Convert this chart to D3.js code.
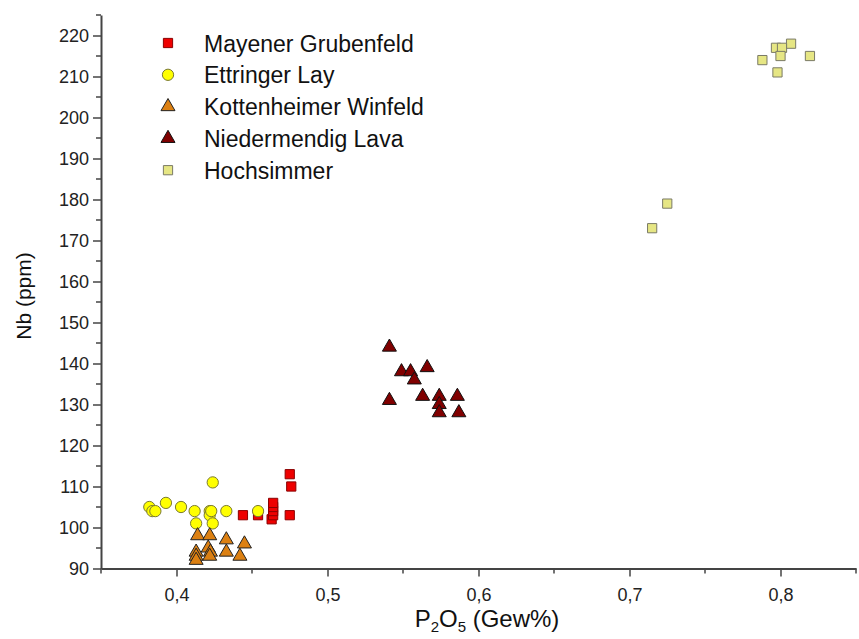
<!DOCTYPE html>
<html>
<head>
<meta charset="utf-8">
<script src="https://cdn.jsdelivr.net/npm/d3@7"></script>
<style>
  body { margin: 0; background: #fff; }
  svg { font-family: "Liberation Sans", Arial, sans-serif; }
</style>
</head>
<body>
<svg id="chart" width="859" height="639"></svg>
<script>
// -------- data --------
const mayener = [
  [0.444, 103], [0.454, 103], [0.463, 102], [0.464, 103], [0.464, 104],
  [0.464, 105], [0.464, 106], [0.475, 103], [0.475, 113], [0.476, 110]
];
const ettringer = [
  [0.382, 105], [0.384, 104], [0.386, 104], [0.393, 106], [0.403, 105],
  [0.412, 104], [0.413, 101], [0.422, 104], [0.422, 103], [0.423, 104],
  [0.424, 111], [0.424, 101], [0.433, 104], [0.454, 104]
];
const kottenheimer = [
  [0.414, 98], [0.422, 98], [0.433, 97], [0.445, 96], [0.413, 94],
  [0.413, 93], [0.413, 92], [0.421, 95], [0.4225, 94], [0.422, 93],
  [0.433, 94], [0.442, 93]
];
const niedermendig = [
  [0.541, 144], [0.549, 138], [0.555, 138], [0.566, 139], [0.5575, 136],
  [0.541, 131], [0.563, 132], [0.574, 132], [0.574, 130], [0.574, 128],
  [0.586, 132], [0.587, 128]
];
const hochsimmer = [
  [0.807, 218], [0.797, 217], [0.801, 217], [0.800, 215], [0.788, 214],
  [0.8195, 215], [0.798, 211], [0.715, 173], [0.725, 179]
];
const seriesNames = [
  "Mayener Grubenfeld", "Ettringer Lay", "Kottenheimer Winfeld",
  "Niedermendig Lava", "Hochsimmer"
];
const xTicks = [0.4, 0.5, 0.6, 0.7, 0.8];
const yTicks = [90, 100, 110, 120, 130, 140, 150, 160, 170, 180, 190, 200, 210, 220];

// -------- setup --------
const svg = d3.select("#chart");
const axisColor = "#444";

const x = d3.scaleLinear().domain([0.35, 0.85]).range([101, 856]);
const y = d3.scaleLinear().domain([90, 225]).range([568.5, 15]);

const locale = d3.formatLocale({ decimal: ",", thousands: ".", grouping: [3], currency: ["", "€"] });
const fmtX = locale.format(".1f");

// marker styles per series
const styles = [
  { data: mayener, shape: d3.symbolSquare, size: 85, fill: "#ee0000", stroke: "#8a0000" },
  { data: ettringer, shape: d3.symbolCircle, size: 100, fill: "#ffff00", stroke: "#7a7a30" },
  { data: kottenheimer, shape: d3.symbolTriangle, size: 85, fill: "#dc8012", stroke: "#222" },
  { data: niedermendig, shape: d3.symbolTriangle, size: 85, fill: "#800000", stroke: "#111" },
  { data: hochsimmer, shape: d3.symbolSquare, size: 85, fill: "#e6e684", stroke: "#7a7a66" }
];

// -------- axes --------
const xAxis = svg.append("g")
  .attr("transform", "translate(0,568.5)")
  .call(d3.axisBottom(x).tickValues(xTicks).tickFormat(fmtX).tickSize(8).tickSizeOuter(0).tickPadding(12));
// minor x ticks
xAxis.selectAll(".minor")
  .data([0.35, 0.45, 0.55, 0.65, 0.75, 0.85])
  .enter().append("line")
  .attr("x1", d => x(d)).attr("x2", d => x(d))
  .attr("y1", 0).attr("y2", 5)
  .attr("stroke", axisColor).attr("stroke-width", 1.5);

const yAxis = svg.append("g")
  .attr("transform", "translate(101,0)")
  .call(d3.axisLeft(y).tickValues(yTicks).tickSize(8).tickSizeOuter(0).tickPadding(4));
yAxis.selectAll(".minor")
  .data(d3.range(95, 226, 10))
  .enter().append("line")
  .attr("x1", 0).attr("x2", -5)
  .attr("y1", d => y(d)).attr("y2", d => y(d))
  .attr("stroke", axisColor).attr("stroke-width", 1.5);

[xAxis, yAxis].forEach(function (g) {
  g.select(".domain").attr("stroke", axisColor).attr("stroke-width", 2);
  g.selectAll(".tick line").attr("stroke", axisColor).attr("stroke-width", 1.5);
  g.selectAll(".tick text").attr("fill", "#222").style("font-size", "18px");
});

// axis titles
svg.append("text")
  .attr("transform", "translate(31,296) rotate(-90)")
  .attr("text-anchor", "middle")
  .attr("fill", "#111")
  .style("font-size", "21px")
  .text("Nb (ppm)");

const xt = svg.append("text")
  .attr("x", 487).attr("y", 627)
  .attr("text-anchor", "middle")
  .attr("fill", "#111")
  .style("font-size", "24px");
xt.append("tspan").text("P");
xt.append("tspan").attr("dy", 5).style("font-size", "15px").text("2");
xt.append("tspan").attr("dy", -5).text("O");
xt.append("tspan").attr("dy", 5).style("font-size", "15px").text("5");
xt.append("tspan").attr("dy", -5).text(" (Gew%)");

// -------- points --------
styles.forEach(function (s) {
  svg.append("g")
    .selectAll("path")
    .data(s.data)
    .enter().append("path")
    .attr("d", d3.symbol().type(s.shape).size(s.size))
    .attr("transform", d => "translate(" + x(d[0]) + "," + y(d[1]) + ")")
    .attr("fill", s.fill)
    .attr("stroke", s.stroke)
    .attr("stroke-width", 1);
});

// -------- legend --------
const legend = svg.append("g").attr("transform", "translate(168,43)");
const entry = legend.selectAll("g")
  .data(styles)
  .enter().append("g")
  .attr("transform", (d, i) => "translate(0," + i * 31.8 + ")");
entry.append("path")
  .attr("d", d => d3.symbol().type(d.shape).size(d.size)())
  .attr("fill", d => d.fill)
  .attr("stroke", d => d.stroke)
  .attr("stroke-width", 1);
entry.append("text")
  .attr("x", 36).attr("y", 8.5)
  .attr("fill", "#111")
  .style("font-size", "23px")
  .text((d, i) => seriesNames[i]);
</script>
</body>
</html>
